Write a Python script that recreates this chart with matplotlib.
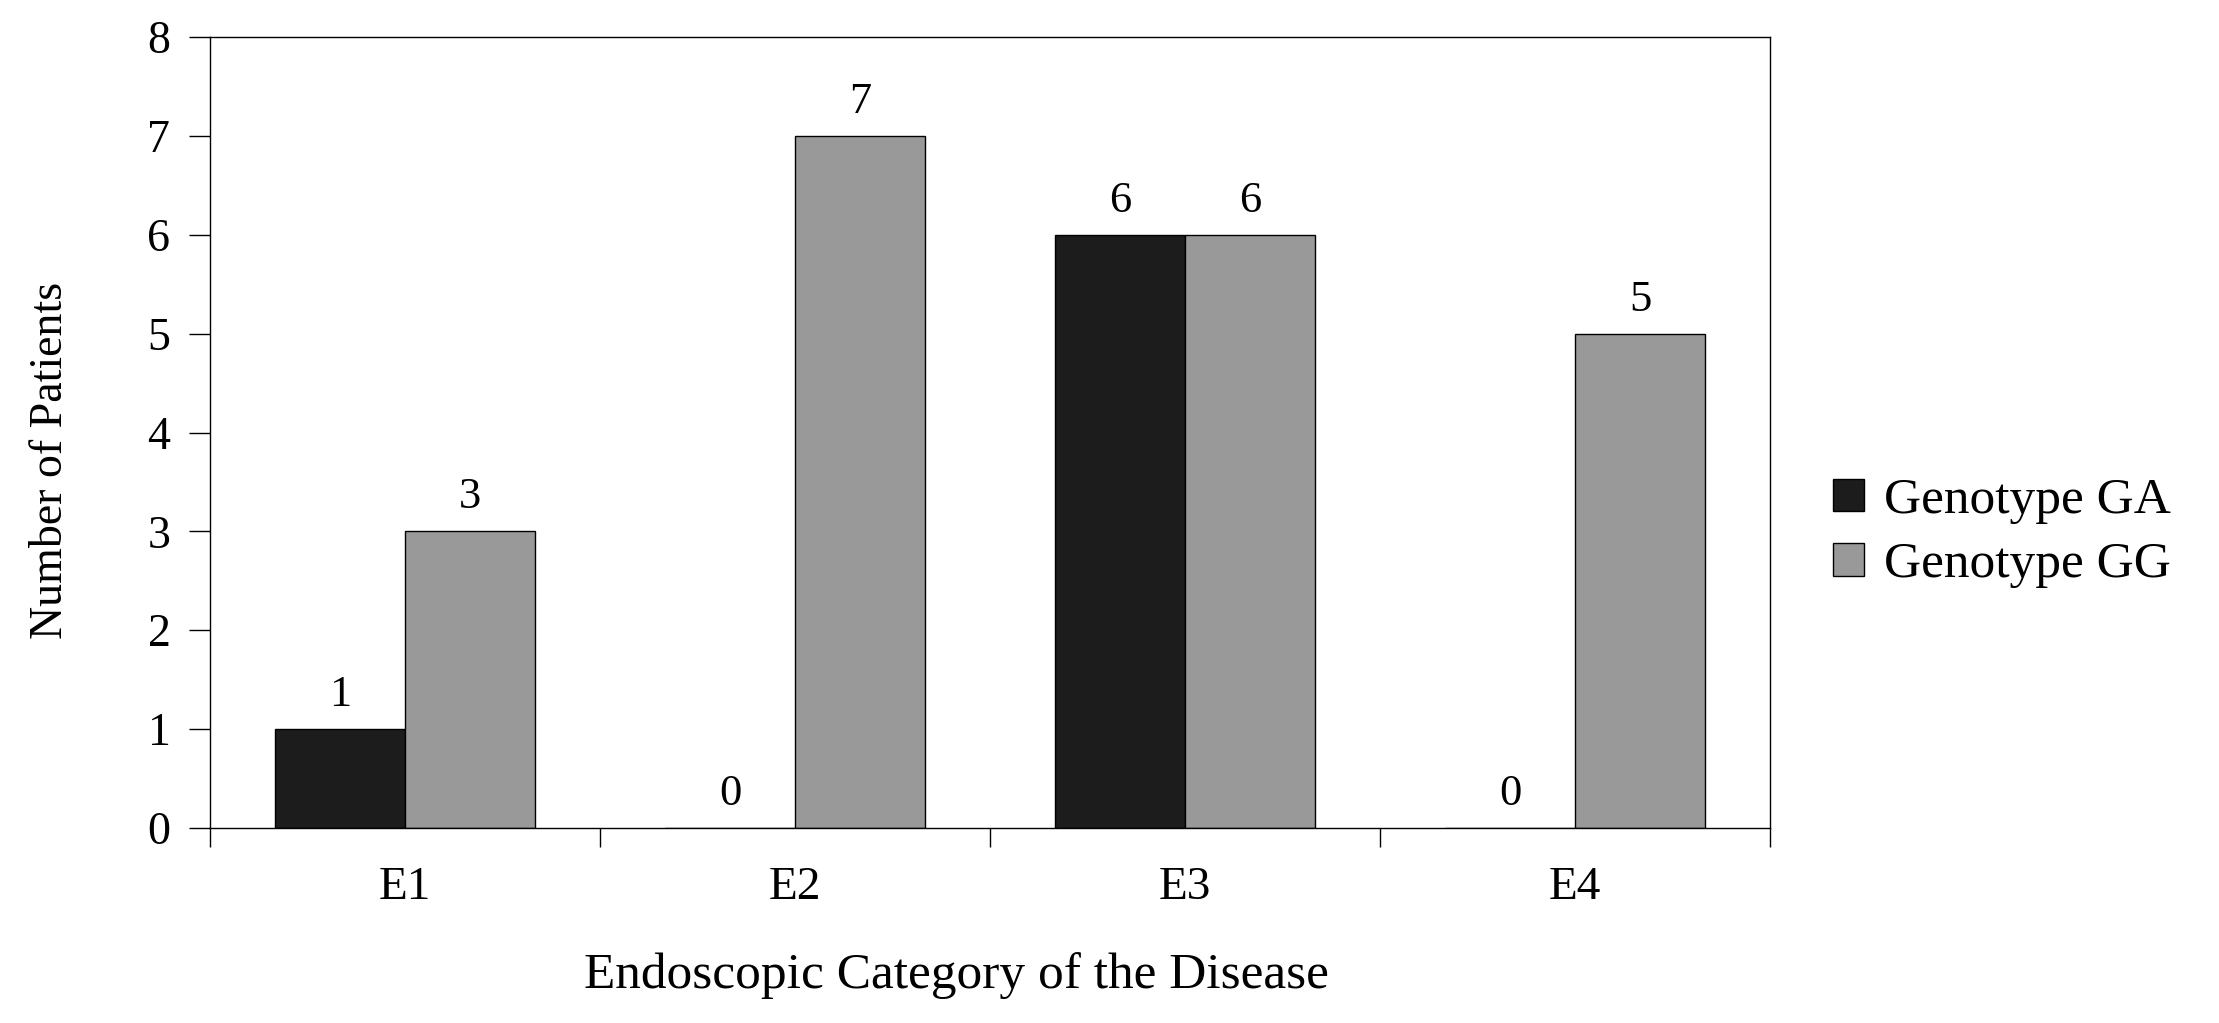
import matplotlib
matplotlib.use("Agg")
import matplotlib.pyplot as plt
import numpy as np
from matplotlib.patches import Patch

categories = ["E1", "E2", "E3", "E4"]
genotype_ga = [1, 0, 6, 0]
genotype_gg = [3, 7, 6, 5]
series_names = ["Genotype GA", "Genotype GG"]
y_ticks = [0, 1, 2, 3, 4, 5, 6, 7, 8]

plt.rcParams['font.family'] = ['Liberation Serif', 'DejaVu Serif']

W, H = 2219, 1023
fig = plt.figure(figsize=(W / 100, H / 100), dpi=100)
ax = fig.add_axes([210 / W, (H - 828) / H, 1560 / W, 791 / H])

x = np.arange(len(categories))
bw = 1 / 3
col_ga = "#1c1c1c"
col_gg = "#999999"
b1 = ax.bar(x - bw / 2, genotype_ga, width=bw, color=col_ga, edgecolor="black", linewidth=1.0, zorder=2)
b2 = ax.bar(x + bw / 2, genotype_gg, width=bw, color=col_gg, edgecolor="black", linewidth=1.0, zorder=2)

for bars in (b1, b2):
    ax.bar_label(bars, labels=[str(int(v.get_height())) for v in bars], padding=10, fontsize=32)

ax.set_xlim(-0.5, 3.5)
ax.set_ylim(0, 8)
ax.set_yticks(y_ticks)
ax.set_yticklabels([str(t) for t in y_ticks])
ax.set_xticks(x)
ax.set_xticklabels(categories)
ax.set_xticks(np.arange(-0.5, 4.0, 1.0), minor=True)

for s in ax.spines.values():
    s.set_linewidth(1.0)
    s.set_color("black")

ax.tick_params(axis='y', which='major', direction='out', length=15, width=1.0, pad=13.5, labelsize=33)
ax.tick_params(axis='x', which='major', length=0, pad=28, labelsize=34)
ax.tick_params(axis='x', which='minor', direction='out', length=13.7, width=1.0)

ax.set_xlabel("Endoscopic Category of the Disease", fontsize=37, va='baseline')
ax.xaxis.set_label_coords((956 - 210) / 1560, (828 - 988) / 791)
ax.set_ylabel("Number of Patients", fontsize=33, va='center')
ax.yaxis.set_label_coords((51 - 210) / 1560, (828 - 460) / 791)

handles = [Patch(facecolor=col_ga, edgecolor="black", linewidth=1.0),
           Patch(facecolor=col_gg, edgecolor="black", linewidth=1.0)]
fig.legend(handles, series_names, loc='center left',
           bbox_to_anchor=(1833 / W, 1 - 533 / H), frameon=False, fontsize=37,
           handlelength=0.6, handleheight=0.6, handletextpad=0.39,
           labelspacing=0.35, borderaxespad=0, borderpad=0)

fig.savefig("out.png", dpi=100, facecolor="white")
